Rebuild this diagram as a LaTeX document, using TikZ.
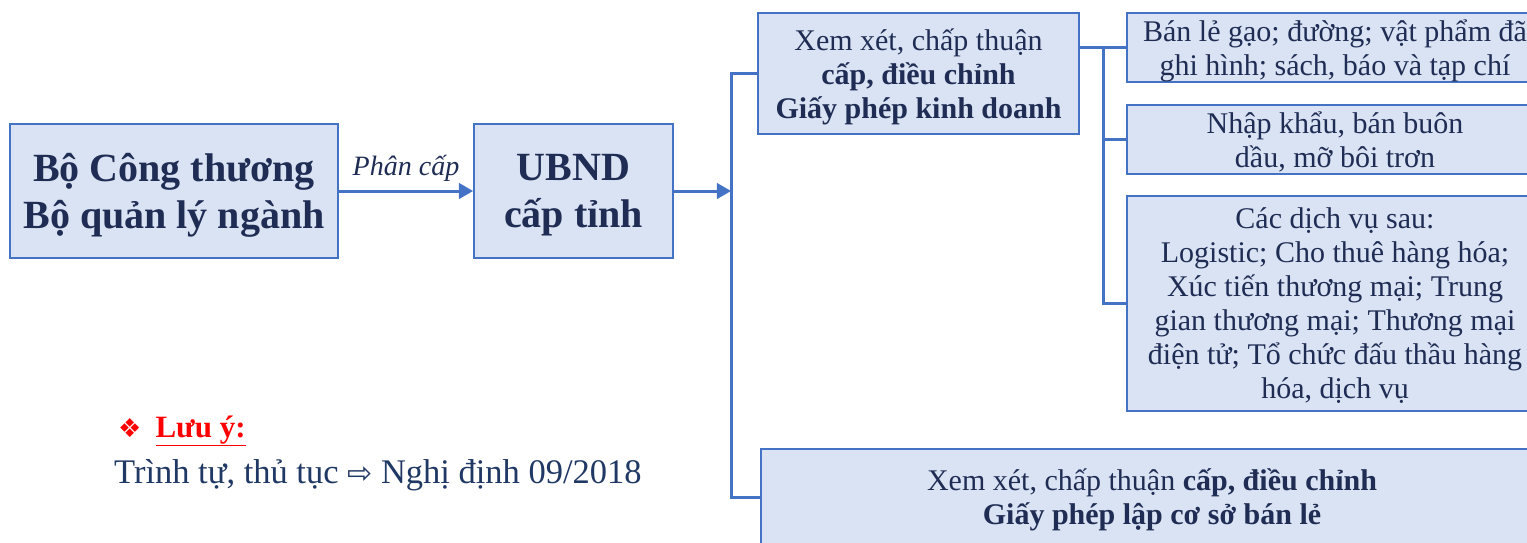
\documentclass[tikz,border=0pt]{standalone}
\usepackage{fontspec}
\setmainfont{Liberation Serif}
\newfontfamily\symbolfont{DejaVu Sans}
\usetikzlibrary{arrows}
\definecolor{boxline}{HTML}{4472C4}
\definecolor{boxfill}{HTML}{DAE3F3}
\definecolor{navy}{HTML}{1F2D55}
\definecolor{notenavy}{HTML}{203864}

\begin{document}
\begin{tikzpicture}[x = 1pt, y = -1pt,
    box/.style = {draw = boxline, fill = boxfill, line width = 2pt, align = center, text = navy, inner sep = 0pt},
    bigtext/.style = {font = \fontsize{40}{47}\selectfont\bfseries, text depth = -10pt},
    smalltext/.style = {font = \fontsize{30}{34}\selectfont, text depth = -7pt},
    link/.style = {draw = boxline, line width = 3pt},
    note/.style = {anchor = west, inner sep = 0pt}]

	\useasboundingbox (0, 0) rectangle (1527, 542);

	\node (BCT)  at ( 174,   191  ) [box, bigtext, minimum width = 328, minimum height = 134] {Bộ Công thương\\Bộ quản lý ngành};
	\node (UBND) at ( 573.5, 191  ) [box, bigtext, minimum width = 199, minimum height = 134] {UBND\\cấp tỉnh};
	\node (XX)   at ( 918.5,  73.5) [box, smalltext, minimum width = 321, minimum height = 121] {Xem xét, chấp thuận\\\textbf{cấp, điều chỉnh}\\\textbf{Giấy phép kinh doanh}};
	\node (BL)   at (1335,    47.5) [box, smalltext, minimum width = 416, minimum height = 69] {Bán lẻ gạo; đường; vật phẩm đã\\ghi hình; sách, báo và tạp chí};
	\node (NK)   at (1335,   139.5) [box, smalltext, minimum width = 416, minimum height = 69] {Nhập khẩu, bán buôn\\dầu, mỡ bôi trơn};
	\node (DV)   at (1335,   303.5) [box, smalltext, minimum width = 416, minimum height = 215] {Các dịch vụ sau:\\Logistic; Cho thuê hàng hóa;\\Xúc tiến thương mại; Trung\\gian thương mại; Thương mại\\điện tử; Tổ chức đấu thầu hàng\\hóa, dịch vụ};
	\node (CS)   at (1152,   497  ) [box, smalltext, minimum width = 782, minimum height = 96] {Xem xét, chấp thuận \textbf{cấp, điều chỉnh}\\\textbf{Giấy phép lập cơ sở bán lẻ}};

	\node (LY) at (118, 431) [note, text = red, font = \fontsize{31}{36}\selectfont] {{\symbolfont\fontsize{26}{30}\selectfont ❖}\hspace{14pt}\underline{\textbf{Lưu ý:}}};
	\node (TT) at (114, 475) [note, text = notenavy, font = \fontsize{34.5}{40}\selectfont] {Trình tự, thủ tục {\symbolfont\fontsize{30}{34}\selectfont ⇨} Nghị định 09/2018};

	\coordinate (J) at ( 731, 191);
	\coordinate (T) at (1103, 47.5);

	\path (BCT) edge [link, -triangle 60] node[above = 8pt, inner sep = 0pt, text = navy, font = \fontsize{28}{32}\selectfont\itshape] {Phân cấp} (UBND);
	\path (UBND) edge [link, -triangle 60] (J);
	\draw [link] (XX.west) -| (J) |- (CS.west);

	\draw [link] (XX.east |- BL.west) -- (BL.west);
	\foreach \to in {NK, DV}
		\draw [link] (T) |- (\to.west);

\end{tikzpicture}
\end{document}
